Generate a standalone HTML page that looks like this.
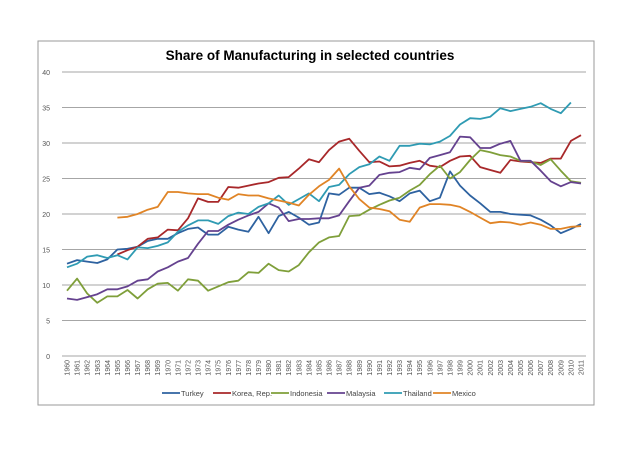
<!DOCTYPE html>
<html><head><meta charset="utf-8"><style>
body{margin:0;background:#fff;font-family:"Liberation Sans",sans-serif}
</style></head><body>
<svg id="c" width="640" height="452" xmlns="http://www.w3.org/2000/svg">
<rect x="38" y="41" width="556" height="364" fill="#fff" stroke="#9a9a9a" stroke-width="1"/>
<text x="310" y="60" text-anchor="middle" font-size="13.5" font-weight="bold" fill="#000">Share of Manufacturing in selected countries</text>
<g id="grid"></g><g id="xlab"></g><g id="lines"></g><g id="legend"></g>
</svg>
<script>
const years=[];for(let y=1960;y<=2011;y++)years.push(y);
const yTicks=[0,5,10,15,20,25,30,35,40];
const seriesNames=["Turkey","Korea, Rep.","Indonesia","Malaysia","Thailand","Mexico"];
const colors=["#2e62a0","#a8282a","#7f9f3a","#65428f","#2f9bb3","#e08426"];
const N=null;
const turkey=[13,13.5,13.3,13.1,13.6,15,15.1,15.4,16.2,16.5,16.5,17.3,17.9,18.1,17.1,17.1,18.2,17.8,17.5,19.6,17.3,19.7,20.3,19.5,18.5,18.8,22.9,22.7,23.7,23.7,22.8,23,22.5,21.8,22.9,23.3,21.8,22.3,26,24,22.6,21.5,20.3,20.3,20,19.9,19.8,19.2,18.4,17.3,17.9,18.6];
const korea=[N,N,N,N,N,14.3,14.9,15.4,16.5,16.7,17.8,17.7,19.4,22.2,21.7,21.7,23.8,23.7,24,24.3,24.5,25.1,25.2,26.4,27.7,27.3,29,30.2,30.6,28.9,27.3,27.4,26.7,26.8,27.2,27.5,26.8,26.6,27.5,28.1,28.2,26.6,26.2,25.8,27.6,27.4,27.3,27.2,27.8,27.8,30.3,31.1];
const indonesia=[9.2,10.9,8.8,7.5,8.4,8.4,9.3,8.1,9.4,10.2,10.3,9.2,10.8,10.6,9.2,9.8,10.4,10.6,11.8,11.7,13,12.1,11.9,12.8,14.6,16,16.7,16.9,19.7,19.8,20.6,21.3,21.9,22.3,23.3,24.1,25.6,26.8,25,25.9,27.6,29,28.7,28.3,28.1,27.5,27.4,26.9,27.7,26.1,24.6,24.4];
const malaysia=[8.1,7.9,8.3,8.7,9.4,9.4,9.8,10.6,10.8,11.9,12.5,13.3,13.8,15.8,17.6,17.6,18.5,19.2,19.8,20.3,21.5,20.9,19,19.3,19.3,19.4,19.4,19.8,21.8,23.7,24,25.5,25.8,25.9,26.5,26.3,27.9,28.3,28.7,30.9,30.8,29.3,29.3,29.9,30.3,27.5,27.5,26.1,24.6,23.9,24.5,24.3];
const thailand=[12.5,13,14,14.2,13.8,14.2,13.6,15.3,15.2,15.5,16,17.5,18.4,19.1,19.1,18.6,19.7,20.2,20,21,21.5,22.6,21.3,22.1,22.9,21.8,23.8,24.1,25.6,26.6,27,28.1,27.5,29.6,29.6,29.9,29.8,30.2,31,32.6,33.5,33.4,33.7,34.9,34.5,34.8,35.1,35.6,34.8,34.2,35.7,N];
const mexico=[N,N,N,N,N,19.5,19.6,20,20.6,21,23.1,23.1,22.9,22.8,22.8,22.3,22,22.8,22.6,22.6,22.2,21.9,21.6,21.2,22.7,23.9,24.8,26.4,23.9,22.1,20.9,20.7,20.4,19.2,18.9,20.9,21.4,21.4,21.3,21,20.3,19.5,18.7,18.9,18.8,18.5,18.8,18.5,17.9,17.9,18.2,18.3];
const data=[turkey,korea,indonesia,malaysia,thailand,mexico];
const NS="http://www.w3.org/2000/svg";
const L=62,R=586,T=72,B=356,yMax=40;
const step=(R-L)/years.length;
const xs=i=>L+step*(i+0.5);
const ys=v=>B-(B-T)*v/yMax;
function mk(tag,attrs,parent){const e=document.createElementNS(NS,tag);for(const k in attrs)e.setAttribute(k,attrs[k]);parent.appendChild(e);return e;}
const grid=document.getElementById('grid');
yTicks.forEach(t=>{
 const l=mk('line',{x1:L,x2:R,y1:ys(t),y2:ys(t),stroke:'#a6a6a6','stroke-width':1},grid);
 
 
 const tx=mk('text',{x:50,y:ys(t)+3,'text-anchor':'end','font-size':7,fill:'#555'},grid);
 tx.textContent=t;
 
 
});
const xl=document.getElementById('xlab');
years.forEach((y,i)=>{
 const x=xs(i);
 const tx=mk('text',{x:0,y:0,'text-anchor':'end','font-size':7,fill:'#555',transform:`translate(${x+2.5},360) rotate(-90)`},xl);
 tx.textContent=y;
 
 
});
const lg=document.getElementById('lines');
data.forEach((s,si)=>{
 let d='',pen=false;
 s.forEach((v,i)=>{if(v===null){pen=false;return;}d+=(pen?'L':'M')+xs(i).toFixed(1)+','+ys(v).toFixed(1);pen=true;});
 const p=mk('path',{d:d,fill:'none',stroke:colors[si],'stroke-width':1.8,'stroke-linejoin':'round'},lg);
 
 
});
const leg=document.getElementById('legend');
const lx=[162,213,271,327,384,433];
seriesNames.forEach((n,i)=>{
 const g=mk('g',{},leg);
 
 
 mk('line',{x1:lx[i],x2:lx[i]+18,y1:393,y2:393,stroke:colors[i],'stroke-width':1.8},g);
 const t=mk('text',{x:lx[i]+19,y:396,'font-size':7.5,fill:'#444'},g);
 t.textContent=n;
});
</script>
</body></html>
